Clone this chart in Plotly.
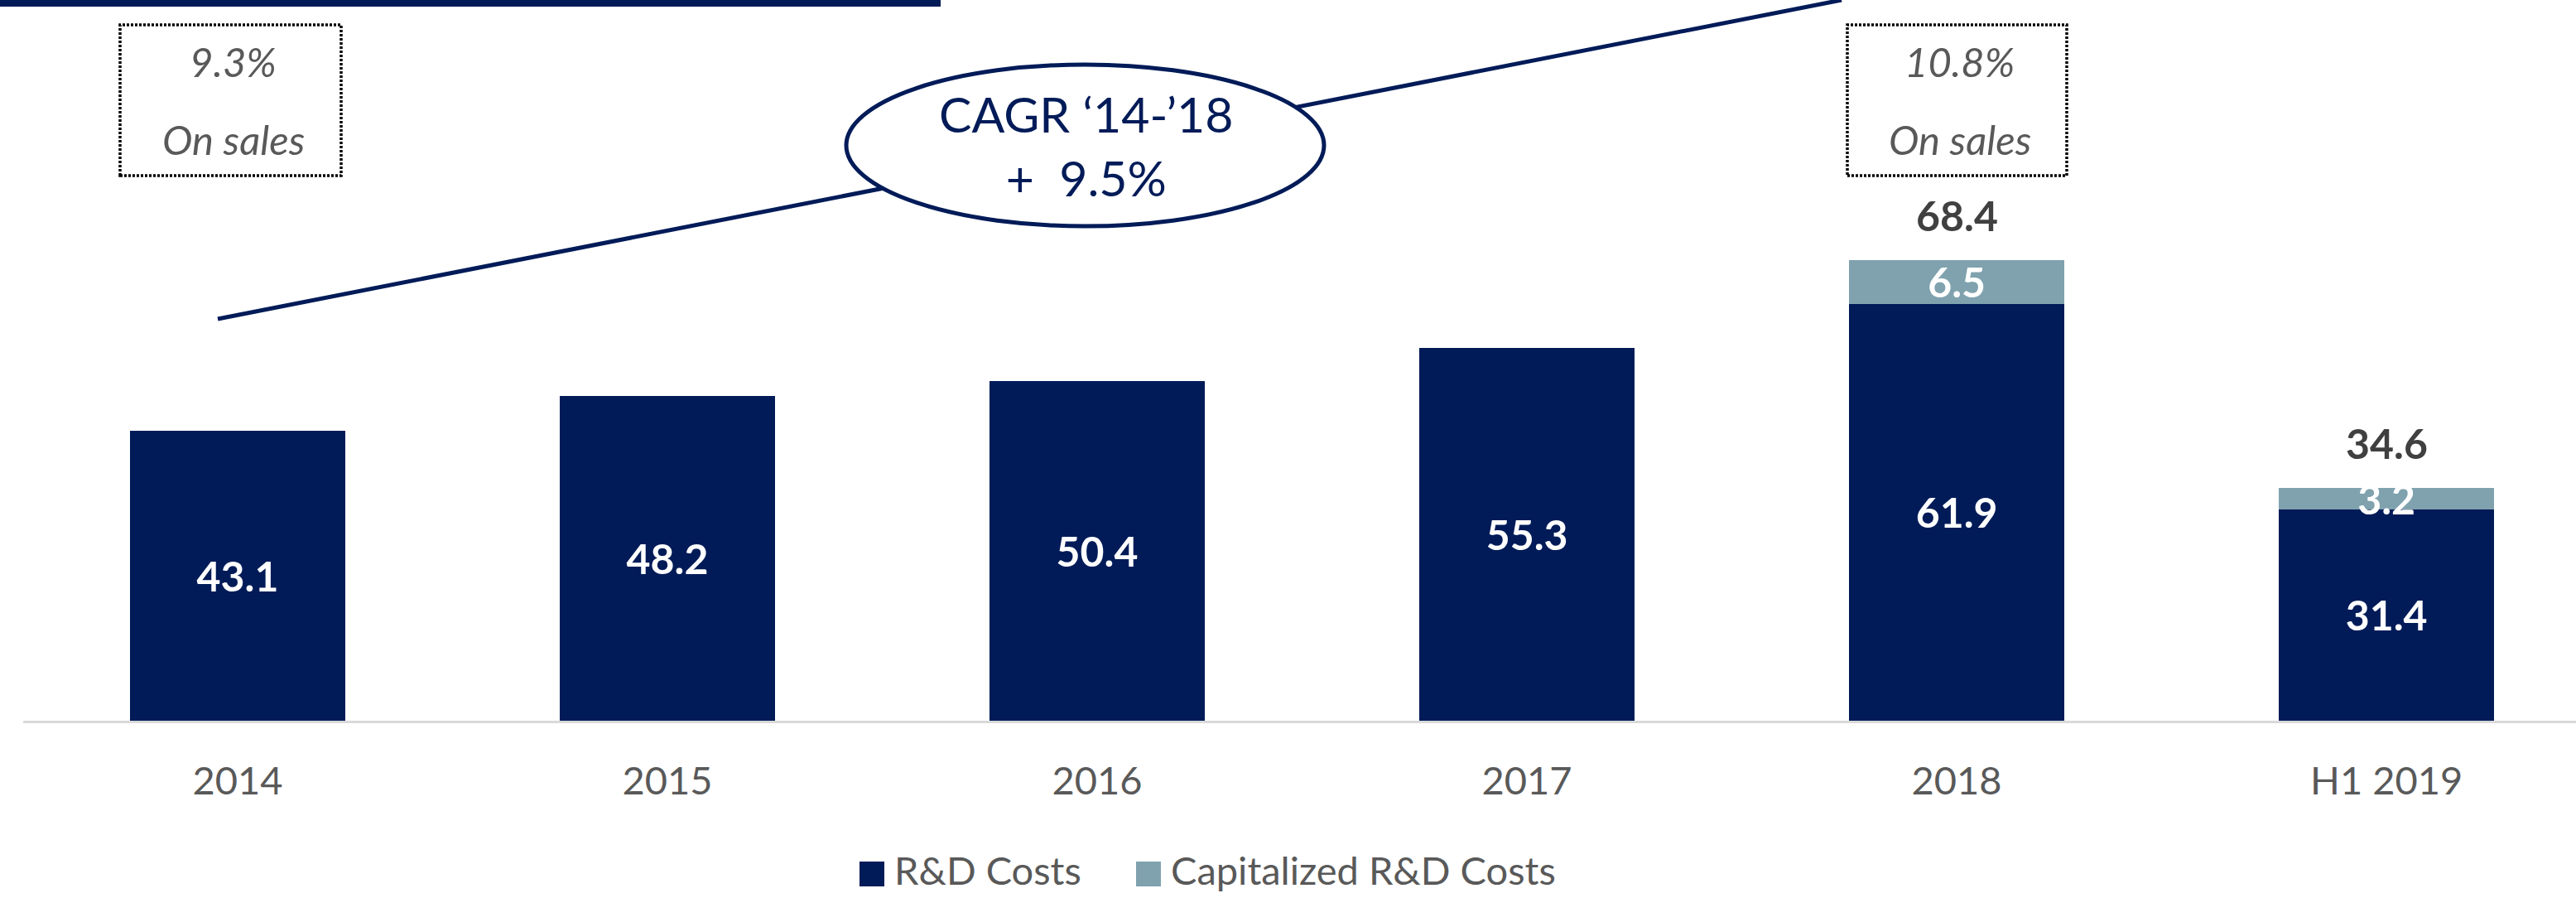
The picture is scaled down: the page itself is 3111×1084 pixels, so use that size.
import plotly.graph_objects as go

# ---------------- data ----------------
categories = ["2014", "2015", "2016", "2017", "2018", "H1 2019"]
rd_costs = [43.1, 48.2, 50.4, 55.3, 61.9, 31.4]
cap_rd_costs = [None, None, None, None, 6.5, 3.2]
series_names = ["R&D Costs", "Capitalized R&D Costs"]
ratio_years = ["2014", "2018"]
ratio_values = ["9.3%", "10.8%"]
ratio_caption = "On sales"
cagr_title = "CAGR \u201814-\u201918"
cagr_value = "+ \u00a09.5%"

# ---------------- style ----------------
NAVY = "#001B58"
LIGHT = "#7FA2AE"
GRAY = "#595959"
DARK = "#404040"
FONT = "Lato"
W, H = 3111, 1084
L_M, B_M = 28, 214
PLOT_W = W - L_M
PLOT_H = H - B_M


def px(xp):
    return (xp - L_M) / PLOT_W


def py(yp):
    return (PLOT_H - yp) / PLOT_H


fig = go.Figure()
fig.add_bar(
    x=categories, y=rd_costs, name=series_names[0], width=0.5,
    marker=dict(color=NAVY, line=dict(width=0)),
    text=[f"{v:.1f}" for v in rd_costs], textposition="inside",
    insidetextanchor="middle", constraintext="none",
    textfont=dict(family=FONT, size=50, color="white", weight="bold"),
    hoverinfo="skip", showlegend=False,
)
fig.add_bar(
    x=categories, y=cap_rd_costs, name=series_names[1], width=0.5,
    marker=dict(color=LIGHT, line=dict(width=0)),
    text=[f"{v:.1f}" if v is not None else "" for v in cap_rd_costs],
    textposition="inside", insidetextanchor="middle", constraintext="none",
    textfont=dict(family=FONT, size=50, color="white", weight="bold"),
    hoverinfo="skip", showlegend=False,
)

annotations = []
# totals above stacked bars
for i, (a, b) in enumerate(zip(rd_costs, cap_rd_costs)):
    if b is not None:
        annotations.append(dict(
            x=i, y=a + b, xref="x", yref="y", text=f"{a + b:.1f}",
            showarrow=False, yanchor="middle", yshift=54,
            font=dict(family=FONT, size=50, color=DARK, weight="bold")))

shapes = []
# top navy band
shapes.append(dict(type="rect", xref="paper", yref="paper",
                   x0=px(0), x1=px(1136), y0=py(8), y1=py(0),
                   fillcolor=NAVY, line=dict(width=0), layer="above"))

# dotted ratio boxes
box_px = {"2014": (145, 412), "2018": (2231, 2496)}
for yr, val in zip(ratio_years, ratio_values):
    x0, x1 = box_px[yr]
    shapes.append(dict(type="rect", xref="paper", yref="paper",
                       x0=px(x0), x1=px(x1), y0=py(212), y1=py(30),
                       line=dict(color="black", width=3.5, dash="3px,2px"),
                       fillcolor="rgba(0,0,0,0)", layer="above"))
    xc = px((x0 + x1) / 2 + 3)
    annotations.append(dict(x=xc, y=py(74), xref="paper", yref="paper",
                            text=f"<i>{val}</i>", showarrow=False,
                            xanchor="center", yanchor="middle",
                            font=dict(family=FONT, size=49, color=GRAY)))
    annotations.append(dict(x=xc, y=py(168), xref="paper", yref="paper",
                            text=f"<i>{ratio_caption}</i>", showarrow=False,
                            xanchor="center", yanchor="middle",
                            font=dict(family=FONT, size=49, color=GRAY)))

# CAGR trend line + ellipse
shapes.append(dict(type="line", xref="paper", yref="paper",
                   x0=px(263), y0=py(385), x1=px(2224), y1=py(0),
                   line=dict(color=NAVY, width=5), layer="above"))
shapes.append(dict(type="circle", xref="paper", yref="paper",
                   x0=px(1022), x1=px(1599), y0=py(273), y1=py(78),
                   fillcolor="white", line=dict(color=NAVY, width=5),
                   layer="above"))
annotations.append(dict(x=px(1312), y=py(176), xref="paper", yref="paper",
                        text=f"{cagr_title}<br>{cagr_value}", showarrow=False,
                        xanchor="center", yanchor="middle", align="center",
                        font=dict(family=FONT, size=59, color=NAVY)))

# manual legend
legend_items = [(series_names[0], NAVY, 1038), (series_names[1], LIGHT, 1372)]
for name, col, x0 in legend_items:
    shapes.append(dict(type="rect", xref="paper", yref="paper",
                       x0=px(x0), x1=px(x0 + 30), y0=py(1070), y1=py(1040),
                       fillcolor=col, line=dict(width=0), layer="above"))
    annotations.append(dict(x=px(x0 + 40), y=py(1050), xref="paper", yref="paper",
                            text=name, showarrow=False, xanchor="left",
                            yanchor="middle",
                            font=dict(family=FONT, size=47, color=GRAY)))

fig.update_layout(
    width=W, height=H, autosize=False,
    margin=dict(l=L_M, r=0, t=0, b=B_M, pad=0),
    barmode="stack",
    paper_bgcolor="white", plot_bgcolor="white",
    showlegend=False,
    shapes=shapes, annotations=annotations,
    font=dict(family=FONT, color=GRAY),
    xaxis=dict(type="category", range=[-0.499, 5.441], showgrid=False,
               showline=True, linecolor="#D9D9D9", linewidth=3,
               ticks="", ticklabelstandoff=30,
               tickfont=dict(family=FONT, size=47, color=GRAY),
               zeroline=False, fixedrange=True),
    yaxis=dict(range=[0, PLOT_H / 8.13], visible=False, showgrid=False,
               zeroline=False, fixedrange=True),
)

fig.write_html("out.html",
               config={"displayModeBar": False},
               post_script="document.body.style.margin='0';document.body.style.overflow='hidden';")
